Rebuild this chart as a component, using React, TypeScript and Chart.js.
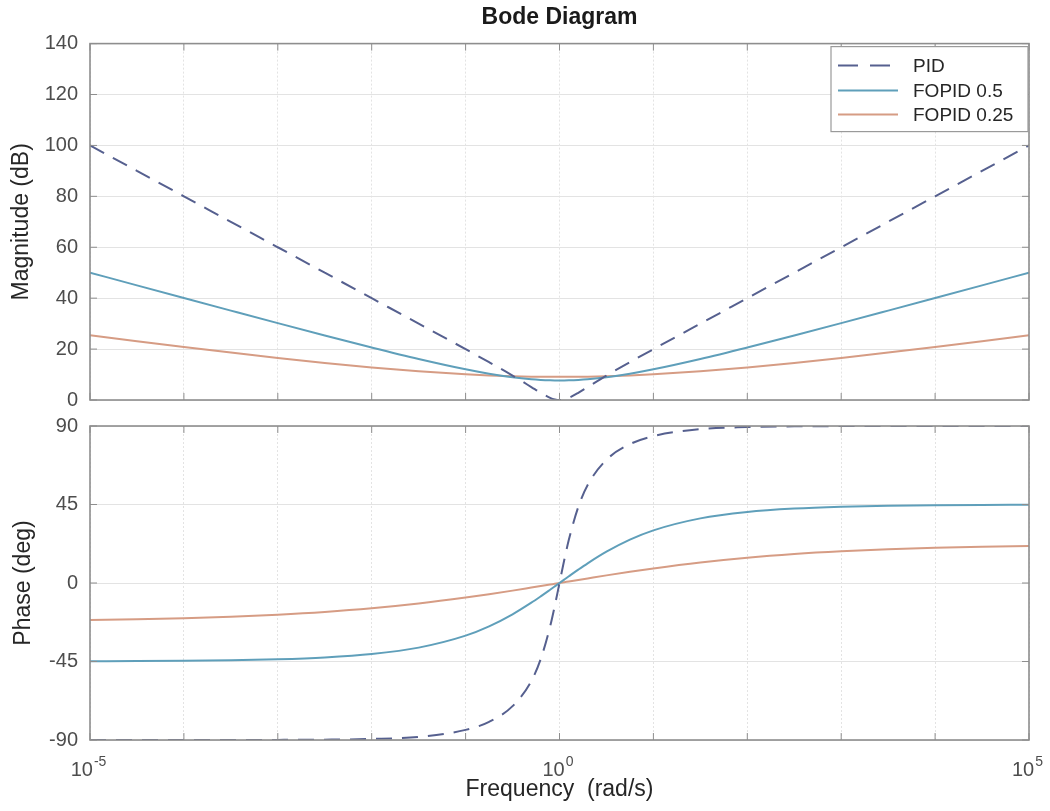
import React, { useEffect, useRef } from "react";
import { Chart, registerables } from "chart.js";

Chart.register(...registerables);

// ---- data (frequency given as decade exponent) ----
const freqExp = [-5, -4.5, -4, -3.5, -3, -2.5, -2, -1.5, -1, -0.75, -0.5, -0.3, -0.2, -0.1, -0.05, 0, 0.05, 0.1, 0.2, 0.3, 0.5, 0.75, 1, 1.5, 2, 2.5, 3, 3.5, 4, 4.5, 5];

const magPID = [100, 90, 80, 70, 60, 50, 40, 30, 19.96, 14.86, 9.59, 5.09, 2.81, 0.85, 0.23, 0, 0.23, 0.85, 2.81, 5.09, 9.59, 14.86, 19.96, 30, 40, 50, 60, 70, 80, 90, 100];
const magFO50 = [50.02, 45.03, 40.06, 35.11, 30.19, 25.35, 20.62, 16.11, 12.05, 10.31, 8.91, 8.13, 7.87, 7.71, 7.67, 7.66, 7.67, 7.71, 7.87, 8.13, 8.91, 10.31, 12.05, 16.11, 20.62, 25.35, 30.19, 35.11, 40.06, 45.03, 50.02];
const magFO25 = [25.46, 23.12, 20.83, 18.62, 16.51, 14.55, 12.78, 11.26, 10.09, 9.66, 9.35, 9.18, 9.13, 9.1, 9.09, 9.09, 9.09, 9.1, 9.13, 9.18, 9.35, 9.66, 10.09, 11.26, 12.78, 14.55, 16.51, 18.62, 20.83, 23.12, 25.46];

const phPID = [-90, -90, -90, -89.98, -89.94, -89.8, -89.4, -88.2, -84.2, -79.6, -70.6, -56.2, -43.6, -24.9, -13.0, 0, 13.0, 24.9, 43.6, 56.2, 70.6, 79.6, 84.2, 88.2, 89.4, 89.8, 89.94, 89.98, 90, 90, 90];
const phFO50 = [-44.87, -44.77, -44.59, -44.27, -43.7, -42.64, -40.69, -37.04, -30.18, -24.85, -17.94, -11.28, -7.64, -3.85, -1.93, 0, 1.93, 3.85, 7.64, 11.28, 17.94, 24.85, 30.18, 37.04, 40.69, 42.64, 43.7, 44.27, 44.59, 44.77, 44.87];
const phFO25 = [-21.21, -20.76, -20.14, -19.3, -18.14, -16.58, -14.49, -11.77, -8.37, -6.43, -4.37, -2.64, -1.77, -0.89, -0.44, 0, 0.44, 0.89, 1.77, 2.64, 4.37, 6.43, 8.37, 11.77, 14.49, 16.58, 18.14, 19.3, 20.14, 20.76, 21.21];

const seriesNames = ["PID", "FOPID 0.5", "FOPID 0.25"];
const magTicks = [0, 20, 40, 60, 80, 100, 120, 140];
const phaseTicks = [-90, -45, 0, 45, 90];
const xTickExp = [-5, -4, -3, -2, -1, 0, 1, 2, 3, 4, 5];
const xLabelExp = ["-5", "0", "5"];

// ---- styles ----
const FONT = "'Liberation Sans', Arial, Helvetica, sans-serif";
const AXIS_COLOR = "#8e8e8e";
const GRID_COLOR = "#e3e3e3";
const TICK_TEXT = "#4d4d4d";
const TITLE_TEXT = "#262626";
const COLORS = ["#56608f", "#5f9fba", "#d69c84"];
const DASH = [16, 10];

const toPts = (ys: number[]) => freqExp.map((e, i) => ({ x: Math.pow(10, e), y: ys[i] }));

function makeDatasets(series: number[][]) {
  return series.map((ys, i) => ({
    label: seriesNames[i],
    data: toPts(ys),
    borderColor: COLORS[i],
    backgroundColor: COLORS[i],
    borderWidth: 2,
    borderDash: i === 0 ? DASH : [],
    pointRadius: 0,
    fill: false,
    cubicInterpolationMode: "monotone" as const,
  }));
}

const framePlugin = {
  id: "frame",
  afterDraw(chart: any) {
    const { ctx, chartArea: a, scales } = chart;
    ctx.save();
    ctx.strokeStyle = AXIS_COLOR;
    ctx.lineWidth = 1;
    const line = (x1: number, y1: number, x2: number, y2: number) => {
      ctx.beginPath();
      ctx.moveTo(x1, y1);
      ctx.lineTo(x2, y2);
      ctx.stroke();
    };
    scales.x.ticks.forEach((t: any) => {
      const px = scales.x.getPixelForValue(t.value);
      line(px, a.bottom, px, a.bottom - 7);
      line(px, a.top, px, a.top + 7);
    });
    scales.y.ticks.forEach((t: any) => {
      const py = scales.y.getPixelForValue(t.value);
      line(a.left, py, a.left + 7, py);
      line(a.right, py, a.right - 7, py);
    });
    ctx.lineWidth = 1.6;
    ctx.strokeRect(a.left, a.top, a.right - a.left, a.bottom - a.top);
    ctx.restore();
  },
};

const legendPlugin = {
  id: "innerLegend",
  afterDraw(chart: any) {
    const { ctx, chartArea: a } = chart;
    const left = a.right - 198;
    const top = a.top + 3;
    const w = 197;
    const h = 85;
    ctx.save();
    ctx.fillStyle = "#ffffff";
    ctx.fillRect(left, top, w, h);
    ctx.strokeStyle = "#9a9a9a";
    ctx.lineWidth = 1.2;
    ctx.strokeRect(left, top, w, h);
    const rows = [19, 44, 68];
    seriesNames.forEach((name, i) => {
      const y = top + rows[i];
      ctx.strokeStyle = COLORS[i];
      ctx.lineWidth = 2;
      ctx.setLineDash(i === 0 ? [20, 12] : []);
      ctx.beginPath();
      ctx.moveTo(left + 7, y);
      ctx.lineTo(left + 67, y);
      ctx.stroke();
      ctx.setLineDash([]);
      ctx.fillStyle = TITLE_TEXT;
      ctx.font = `19px ${FONT}`;
      ctx.textBaseline = "middle";
      ctx.textAlign = "left";
      ctx.fillText(name, left + 82, y + 1);
    });
    ctx.restore();
  },
};

const xLabelPlugin = {
  id: "xPowLabels",
  afterDraw(chart: any) {
    const { ctx, chartArea: a, scales } = chart;
    ctx.save();
    ctx.fillStyle = TICK_TEXT;
    ctx.textBaseline = "alphabetic";
    ctx.textAlign = "left";
    xLabelExp.forEach((e) => {
      const px = scales.x.getPixelForValue(Math.pow(10, Number(e)));
      ctx.font = `20px ${FONT}`;
      const wb = ctx.measureText("10").width;
      ctx.font = `14px ${FONT}`;
      const ws = ctx.measureText(e).width;
      const x0 = px - (wb + ws) / 2 - 2;
      const base = a.bottom + 36;
      ctx.font = `20px ${FONT}`;
      ctx.fillText("10", x0, base);
      ctx.font = `14px ${FONT}`;
      ctx.fillText(e, x0 + wb + 1, base - 10);
    });
    ctx.restore();
  },
};

function xScale(height: number, title?: string) {
  return {
    type: "logarithmic" as const,
    min: 1e-5,
    max: 1e5,
    afterBuildTicks: (s: any) => {
      s.ticks = xTickExp.map((e) => ({ value: Math.pow(10, e) }));
    },
    afterFit: (s: any) => {
      s.height = height;
      s.paddingLeft = 0;
      s.paddingRight = 0;
    },
    ticks: { display: false },
    grid: { color: GRID_COLOR, lineWidth: 1, drawTicks: false },
    border: { display: false, dash: [2, 2] },
    title: title
      ? {
          display: true,
          text: title,
          color: TITLE_TEXT,
          font: { size: 23, family: FONT },
          padding: { top: 0, bottom: 8 },
        }
      : { display: false },
  };
}

function yScale(min: number, max: number, ticks: number[], title: string, titlePad: number) {
  return {
    type: "linear" as const,
    min,
    max,
    afterBuildTicks: (s: any) => {
      s.ticks = ticks.map((v) => ({ value: v }));
    },
    afterFit: (s: any) => {
      s.width = 90;
      s.paddingTop = 0;
      s.paddingBottom = 0;
    },
    ticks: {
      color: TICK_TEXT,
      font: { size: 20, family: FONT },
      padding: 12,
      callback: (v: any) => String(v),
    },
    grid: { color: GRID_COLOR, lineWidth: 1, drawTicks: false },
    border: { display: false },
    title: {
      display: true,
      text: title,
      color: TITLE_TEXT,
      font: { size: 23, family: FONT },
      padding: { top: titlePad, bottom: 0 },
    },
  };
}

export default function App() {
  const topRef = useRef<HTMLCanvasElement>(null);
  const botRef = useRef<HTMLCanvasElement>(null);

  useEffect(() => {
    Chart.defaults.font.family = FONT;
    const top = new Chart(topRef.current as HTMLCanvasElement, {
      type: "line",
      data: { datasets: makeDatasets([magPID, magFO50, magFO25]) as any },
      options: {
        responsive: false,
        animation: false,
        layout: { padding: { left: 0, right: 21, top: 0, bottom: 0 } },
        plugins: {
          legend: { display: false },
          tooltip: { enabled: false },
          title: {
            display: true,
            text: "Bode Diagram",
            fullSize: false,
            color: "#1a1a1a",
            font: { size: 23, weight: "bold", family: FONT },
            padding: { top: 4, bottom: 12 },
          },
        },
        scales: {
          x: xScale(20) as any,
          y: yScale(0, 140, magTicks, "Magnitude (dB)", 8) as any,
        },
      },
      plugins: [framePlugin, legendPlugin],
    });
    const bot = new Chart(botRef.current as HTMLCanvasElement, {
      type: "line",
      data: { datasets: makeDatasets([phPID, phFO50, phFO25]) as any },
      options: {
        responsive: false,
        animation: false,
        layout: { padding: { left: 0, right: 21, top: 26, bottom: 0 } },
        plugins: {
          legend: { display: false },
          tooltip: { enabled: false },
          title: { display: false },
        },
        scales: {
          x: xScale(71, "Frequency  (rad/s)") as any,
          y: yScale(-90, 90, phaseTicks, "Phase (deg)", 10) as any,
        },
      },
      plugins: [framePlugin, xLabelPlugin],
    });
    return () => {
      top.destroy();
      bot.destroy();
    };
  }, []);

  return (
    <div style={{ position: "absolute", left: 0, top: 0, width: 1050, height: 811, background: "#ffffff" }}>
      <canvas
        ref={topRef}
        width={1050}
        height={420}
        style={{ position: "absolute", left: 0, top: 0, width: 1050, height: 420 }}
      />
      <canvas
        ref={botRef}
        width={1050}
        height={411}
        style={{ position: "absolute", left: 0, top: 400, width: 1050, height: 411 }}
      />
    </div>
  );
}
